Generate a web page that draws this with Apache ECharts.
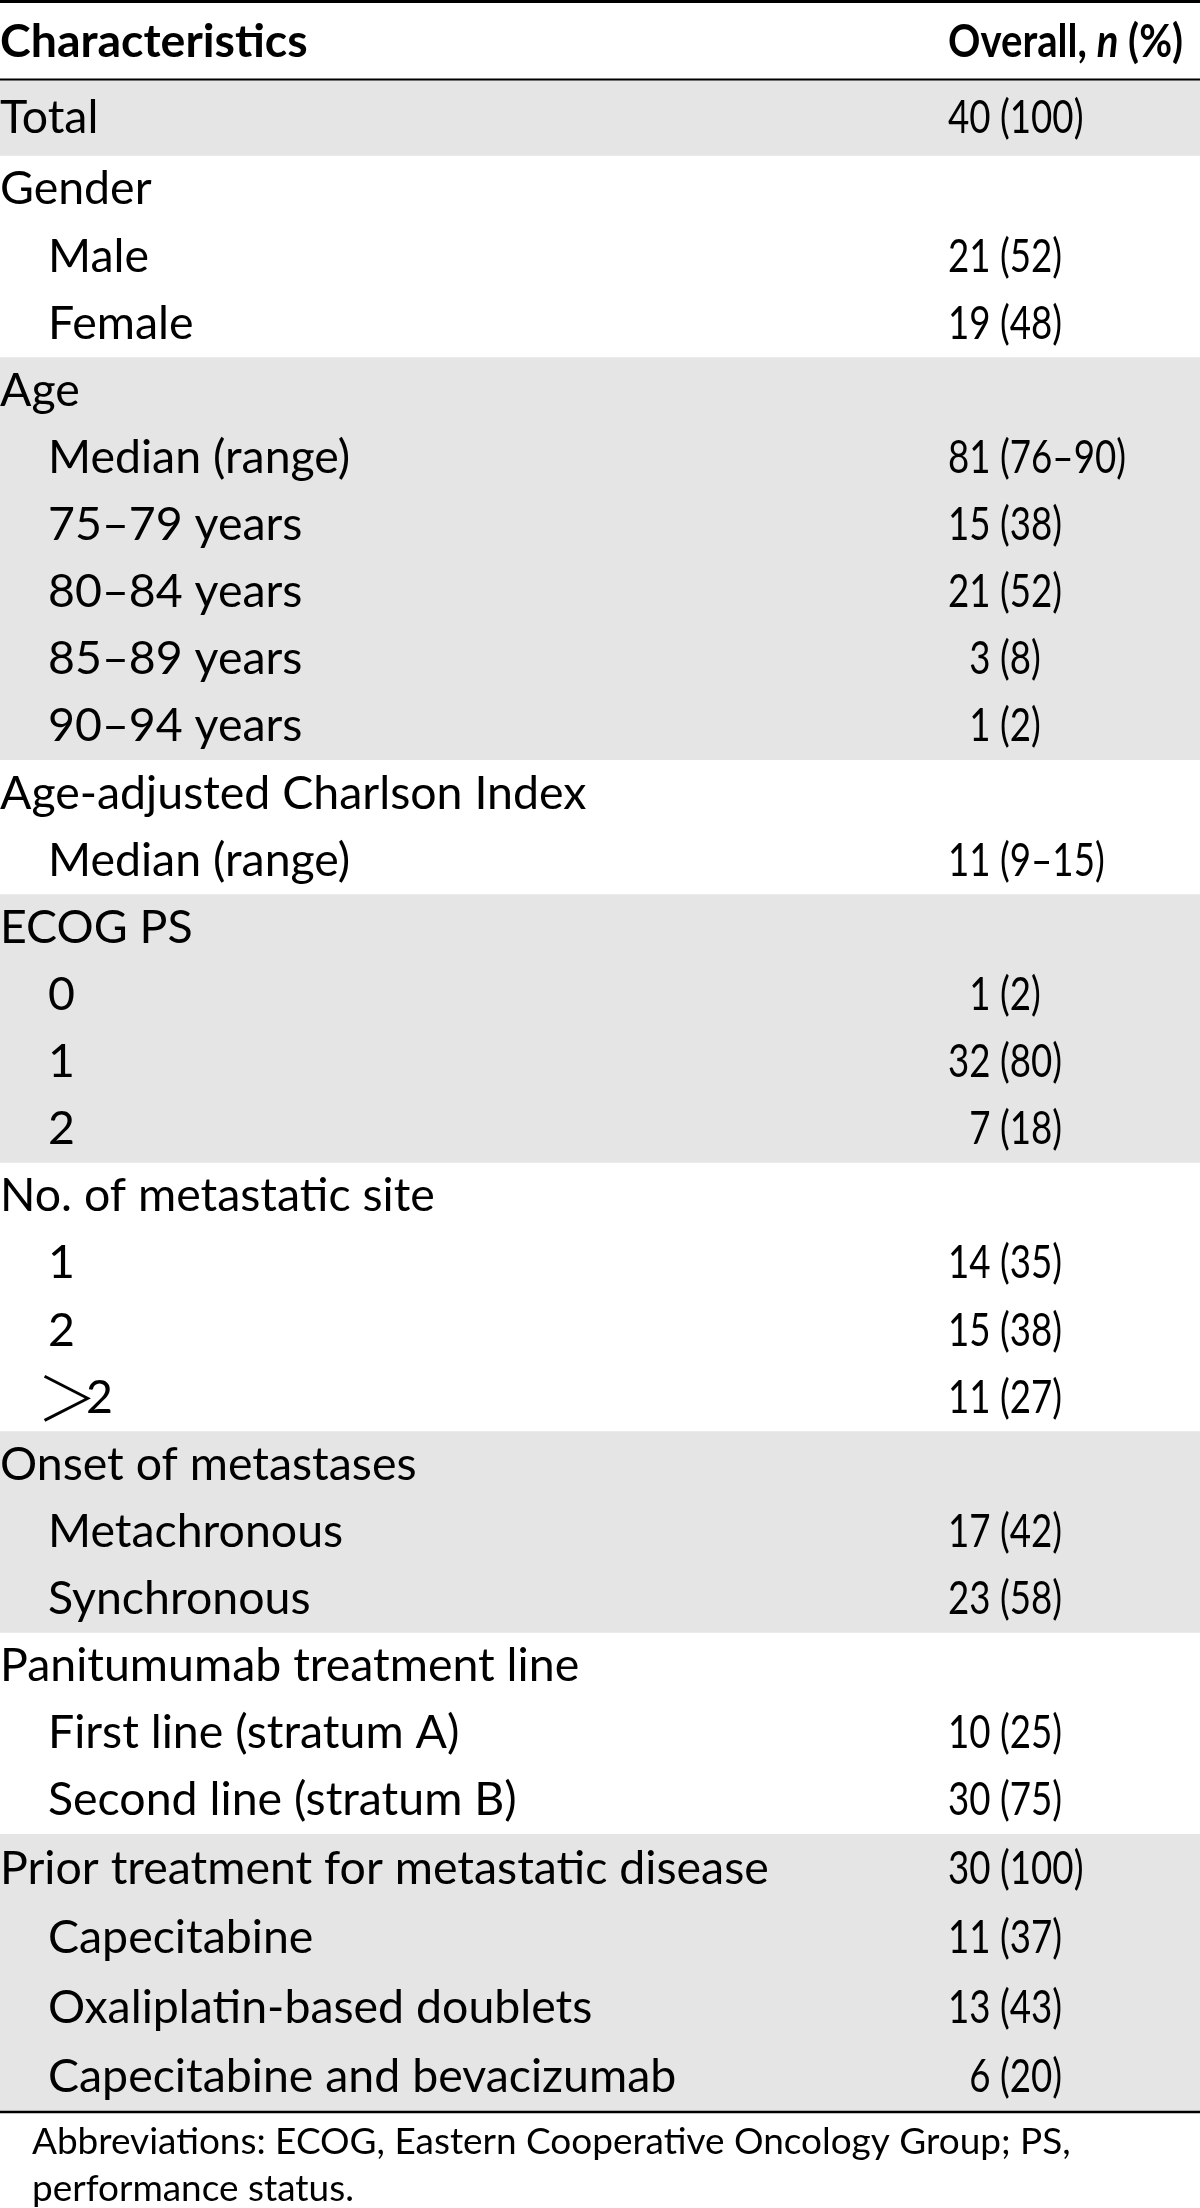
<!DOCTYPE html>
<html><head><meta charset="utf-8">
<script src="https://cdn.jsdelivr.net/npm/echarts@6/dist/echarts.min.js"></script>
<style>html,body{margin:0;padding:0;background:#fff}#c{width:1200px;height:2208px}</style>
</head><body><div id="c"></div>
<script>
// ---- data ----
const headerLeft = 'Characteristics';
const headerRightParts = ['Overall, ', 'n', ' (%)'];
const rowLabels = ['Total','Gender','Male','Female','Age','Median (range)','75–79 years','80–84 years','85–89 years','90–94 years',
  'Age-adjusted Charlson Index','Median (range)','ECOG PS','0','1','2','No. of metastatic site','1','2','＞2',
  'Onset of metastases','Metachronous','Synchronous','Panitumumab treatment line','First line (stratum A)','Second line (stratum B)',
  'Prior treatment for metastatic disease','Capecitabine','Oxaliplatin-based doublets','Capecitabine and bevacizumab'];
const rowIndent = [0,0,1,1,0,1,1,1,1,1,0,1,0,1,1,1,0,1,1,1,0,1,1,0,1,1,0,1,1,1];
const countN = ['40','','21','19','','81','15','21','3','1','','11','','1','32','7','','14','15','11','','17','23','','10','30','30','11','13','6'];
const countPct = ['(100)','','(52)','(48)','','(76–90)','(38)','(52)','(8)','(2)','','(9–15)','','(2)','(80)','(18)','','(35)','(38)','(27)','','(42)','(58)','','(25)','(75)','(100)','(37)','(43)','(20)'];
const groupSizes = [1,3,6,2,4,4,3,3,4];
const groupShaded = [1,0,1,0,1,0,1,0,1];
const footnoteLines = ['Abbreviations: ECOG, Eastern Cooperative Oncology Group; PS,', 'performance status.'];

// ---- layout / styling ----
const FONT = 'Lato';
const ctx = document.createElement('canvas').getContext('2d');
function measure(t, size, weight, fam){ ctx.font = (weight||'normal') + ' ' + size + 'px ' + (fam || FONT); return ctx.measureText(t).width; }
const FS = 769 / measure('Prior treatment for metastatic disease', 100) * 100;
const VSX = 178 / measure('81 (76–90)', FS);           // horizontal condensing of value column
const HSX = 236 / measure('Overall, n (%)', FS, 'bold');
const FS_NOTE = 1039 / measure(footnoteLines[0], 100) * 100;
const COL2 = 948;
const xN = COL2 + measure('32', FS) * VSX;
const gap = measure(' ', FS) * VSX;
const INDENT = 48;
const GT_FAM = '"Noto Sans CJK JP"';
const GT_FS = FS * 1.3;

// row heights (relative); header first, then the 30 rows
const HEADER_H = 1.18;
const rowWeights = rowLabels.map((l, i) => i === 0 ? 1.13 : (i >= 26 ? 1.03 : 0.995));
const rowTop = [];
let acc = 0;
rowWeights.forEach(w => { rowTop.push(acc); acc += w; });
const TOTAL = acc;

const groups = [];
let gi = 0;
groupSizes.forEach((s, i) => {
  const a = rowTop[gi], b = (gi + s < rowTop.length) ? rowTop[gi + s] : TOTAL;
  groups.push([a, b, groupShaded[i]]); gi += s;
});

const rows = rowLabels.map((l, i) => [rowTop[i] + rowWeights[i] / 2, l, rowIndent[i], countN[i], countPct[i]]);

const chart = echarts.init(document.getElementById('c'), null, {renderer: 'canvas'});
chart.setOption({
  animation: false,
  backgroundColor: '#ffffff',
  title: {
    text: footnoteLines.join('\n'), left: 32, top: 2119, padding: 0,
    textStyle: {fontFamily: FONT, fontSize: FS_NOTE, fontWeight: 'normal', color: '#000', lineHeight: 47}
  },
  grid: {left: 0, right: 0, top: 0, bottom: 96},
  xAxis: {type: 'value', min: 0, max: 1200, show: false},
  yAxis: {type: 'value', min: -HEADER_H, max: TOTAL, inverse: true, show: false},
  series: [
    {
      type: 'custom', name: 'bands', silent: true, clip: false,
      data: groups,
      renderItem: (p, api) => {
        if (!api.value(2)) return null;
        const a = api.coord([0, api.value(0)]), b = api.coord([1200, api.value(1)]);
        return {type: 'rect', shape: {x: a[0], y: a[1], width: b[0] - a[0], height: b[1] - a[1]}, style: {fill: '#e5e5e5'}};
      }
    },
    {
      type: 'custom', name: 'rules', silent: true, clip: false,
      data: [[-HEADER_H, 3, 1.5], [0, 2, 0], [TOTAL, 2.5, 0]],
      renderItem: (p, api) => {
        const a = api.coord([0, api.value(0)]), b = api.coord([1200, api.value(0)]);
        const off = api.value(2);
        return {type: 'line', shape: {x1: a[0], y1: a[1] + off, x2: b[0], y2: b[1] + off}, style: {stroke: '#000', lineWidth: api.value(1)}};
      }
    },
    {
      type: 'custom', name: 'header', silent: true, clip: false,
      data: [[-HEADER_H / 2 + 0.04]],
      renderItem: (p, api) => {
        const a = api.coord([0, api.value(0)]);
        return {type: 'group', children: [
          {type: 'text', style: {text: headerLeft, x: 0, y: a[1], fontFamily: FONT, fontSize: FS, fontWeight: 'bold', fill: '#000', align: 'left', verticalAlign: 'middle'}},
          {type: 'text', x: COL2, y: a[1], scaleX: HSX, style: {
            text: '{b|' + headerRightParts[0] + '}{bi|' + headerRightParts[1] + '}{b|' + headerRightParts[2] + '}',
            x: 0, y: 0, align: 'left', verticalAlign: 'middle',
            rich: {
              b: {fontFamily: FONT, fontSize: FS, fontWeight: 'bold', fill: '#000'},
              bi: {fontFamily: FONT, fontSize: FS, fontWeight: 'bold', fontStyle: 'italic', fill: '#000'}
            }
          }}
        ]};
      }
    },
    {
      type: 'custom', name: 'rows', silent: true, clip: false,
      data: rows,
      encode: {y: 0},
      renderItem: (p, api) => {
        const r = rows[p.dataIndex];
        const a = api.coord([0, r[0]]);
        const x0 = r[2] ? INDENT : 0;
        const children = [];
        if (r[1].charAt(0) === '＞') {
          children.push({type: 'text', style: {text: '＞', x: x0 + 19, y: a[1], fontFamily: GT_FAM, fontSize: GT_FS, fontWeight: 200, fill: '#000', align: 'center', verticalAlign: 'middle'}});
          children.push({type: 'text', style: {text: r[1].slice(1), x: x0 + 38, y: a[1], fontFamily: FONT, fontSize: FS, fill: '#000', align: 'left', verticalAlign: 'middle'}});
        } else {
          children.push({type: 'text', style: {text: r[1], x: x0, y: a[1], fontFamily: FONT, fontSize: FS, fill: '#000', align: 'left', verticalAlign: 'middle'}});
        }
        if (r[3]) {
          children.push({type: 'text', x: xN, y: a[1], scaleX: VSX, style: {text: r[3], x: 0, y: 0, fontFamily: FONT, fontSize: FS, fill: '#000', align: 'right', verticalAlign: 'middle'}});
          children.push({type: 'text', x: xN + gap, y: a[1], scaleX: VSX, style: {text: r[4], x: 0, y: 0, fontFamily: FONT, fontSize: FS, fill: '#000', align: 'left', verticalAlign: 'middle'}});
        }
        return {type: 'group', children};
      }
    }
  ]
});
</script></body></html>
